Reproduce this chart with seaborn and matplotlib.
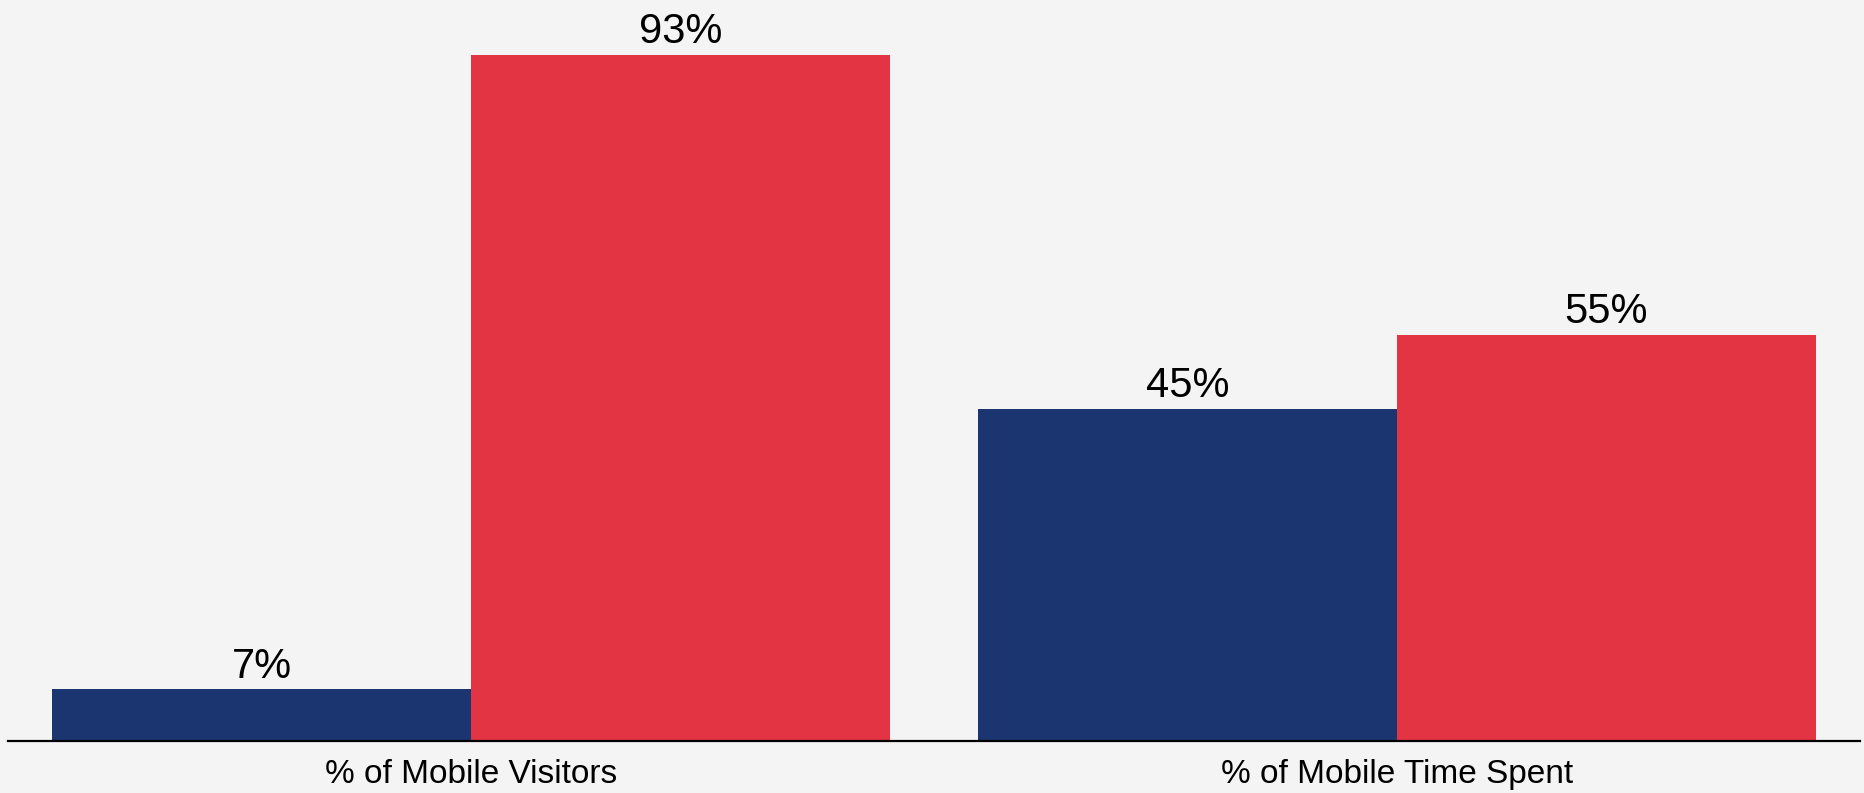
import matplotlib
matplotlib.use("Agg")
import matplotlib.pyplot as plt
import seaborn as sns
import pandas as pd

# Share of mobile audience by platform
metrics = ["% of Mobile Visitors", "% of Mobile Time Spent"]
platforms = ["Mobile Web", "Apps"]
mobile_web = [7, 45]
apps = [93, 55]

df = pd.DataFrame({
    "metric": metrics * 2,
    "platform": [platforms[0]] * 2 + [platforms[1]] * 2,
    "share": mobile_web + apps,
})

sns.set_theme(style="white")
plt.rcParams["font.family"] = ["Liberation Sans", "DejaVu Sans"]

bg = "#f4f4f4"
palette = {"Mobile Web": "#1a3570", "Apps": "#e33444"}

fig = plt.figure(figsize=(18.64, 7.93), dpi=100, facecolor=bg)
ax = fig.add_axes([8 / 1864, 52 / 793, 1852 / 1864, 738 / 793])
ax.set_facecolor(bg)

sns.barplot(data=df, x="metric", y="share", hue="platform", order=metrics,
            hue_order=platforms, palette=palette, width=0.905, gap=0,
            saturation=1, linewidth=0, legend=False, ax=ax)

for cont in ax.containers:
    ax.bar_label(cont, labels=[f"{v:.0f}%" for v in cont.datavalues],
                 padding=2, fontsize=30, color="black")

ax.set_xlim(-0.5, 1.5)
ax.set_ylim(0, 100)
ax.set_xlabel("")
ax.set_ylabel("")
ax.set_yticks([])
ax.tick_params(axis="x", length=0, pad=13, labelsize=24, labelcolor="black")
for side in ["left", "right", "top"]:
    ax.spines[side].set_visible(False)
ax.spines["bottom"].set_color("black")
ax.spines["bottom"].set_linewidth(1.6)

fig.savefig("out.png", dpi=100, facecolor=bg)
